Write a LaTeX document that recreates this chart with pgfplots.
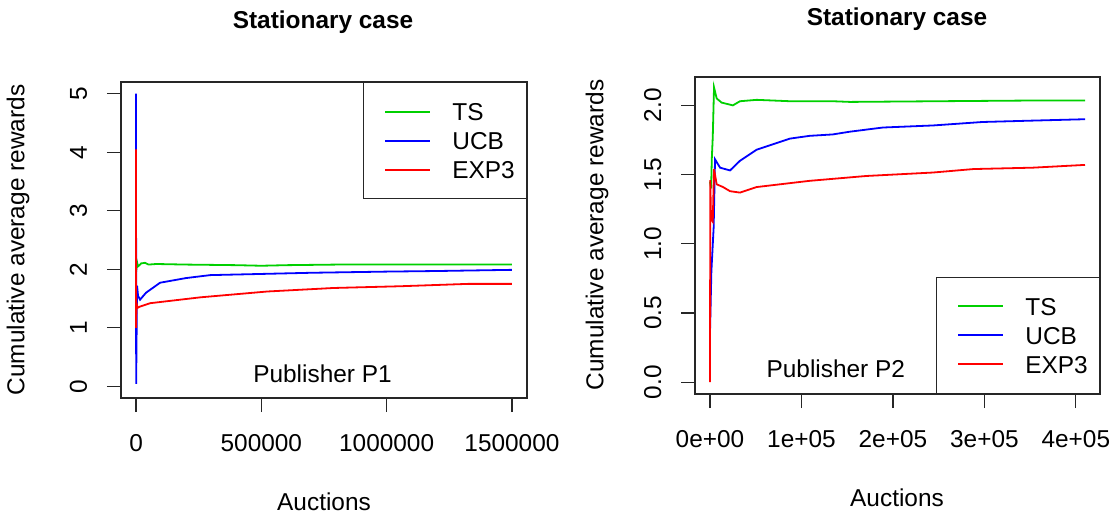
\documentclass[border=0pt]{standalone}
\usepackage{pgfplots}
\pgfplotsset{compat=1.18}
\usepackage{fontspec}
\setmainfont{Liberation Sans}
\definecolor{rgreen}{HTML}{00D000}
\definecolor{rblue}{HTML}{0000FF}
\definecolor{rred}{HTML}{FF0000}
\newcommand{\rfont}{\fontsize{12.2}{14}\selectfont}

\pgfplotsset{
  rbase/.style={
    scale only axis,
    axis line style={black!85, line width=0.6pt},
    tick align=outside, tick pos=left,
    major tick length=7pt,
    tick style={black!85, line width=0.6pt},
    /pgf/number format/assume math mode=true,
    ticklabel style={font=\rfont},
    xticklabel style={anchor=base, yshift=-19.9pt},
    yticklabel style={xshift=-10pt, rotate=90, anchor=base},
    scaled ticks=false,
    legend cell align=left,
    legend image code/.code={%
      \path[draw=none, fill=none] (0pt,0pt) -- (11pt,0pt);
      \draw[##1, line width=1pt] (11pt,0pt) -- (33.5pt,0pt);},
    legend style={draw=black!85, line width=0.6pt, fill=white,
      inner xsep=0pt, inner ysep=7.25pt, row sep=0pt, column sep=10.5pt,
      font=\rfont,
      nodes={inner sep=0pt, text height=11.62pt, text depth=2.88pt}},
  },
  rline/.style={line width=0.9pt, no marks},
}

\begin{document}
\begin{tikzpicture}
\useasboundingbox (0pt,0pt) rectangle (559pt,-256.5pt);

% ---- Publisher P1 ----
\begin{axis}[rbase,
  at={(60.5pt,-199pt)}, anchor=south west,
  width=203pt, height=158pt,
  xmin=-60000, xmax=1560000, ymin=-0.2, ymax=5.2,
  xtick={0,500000,1000000,1500000},
  xticklabels={0,500000,1000000,1500000},
  ytick={0,1,2,3,4,5}, yticklabels={0,1,2,3,4,5},
  legend style={at={(1,1)}, anchor=north east},
]
\addplot[rline, rgreen] coordinates {
  (0,1.95) (1500,2.0) (3000,2.14) (8000,2.05) (14000,2.07) (20000,2.1)
  (36000,2.11) (50000,2.08) (80000,2.09) (200000,2.08) (400000,2.07)
  (500000,2.06) (600000,2.07) (800000,2.08) (1000000,2.08)
  (1200000,2.08) (1500000,2.08)};
\addlegendentry{\makebox[37pt][l]{TS}}
\addplot[rline, rblue] coordinates {
  (0,5.0) (500,0.04) (4000,1.72) (8000,1.55) (16000,1.48) (40000,1.6)
  (96000,1.77) (200000,1.85) (296000,1.9) (500000,1.92) (700000,1.94)
  (1000000,1.96) (1200000,1.97) (1500000,1.99)};
\addlegendentry{\makebox[37pt][l]{UCB}}
\addplot[rline, rred] coordinates {
  (0,4.05) (300,1.0) (2000,1.42) (6000,1.34) (14000,1.36) (56000,1.42)
  (256000,1.52) (524000,1.62) (788000,1.68) (1056000,1.71)
  (1324000,1.75) (1500000,1.75)};
\addlegendentry{\makebox[37pt][l]{EXP3}}
\node[font=\rfont, anchor=center] at (axis cs:744000,0.222) {Publisher P1};
\end{axis}

% ---- Publisher P2 ----
\begin{axis}[rbase,
  at={(347.5pt,-197pt)}, anchor=south west,
  width=202.5pt, height=158.5pt,
  xmin=-16400, xmax=426400, ymin=-0.085, ymax=2.205,
  xtick={0,100000,200000,300000,400000},
  xticklabels={0e+00,1e+05,2e+05,3e+05,4e+05},
  ytick={0,0.5,1,1.5,2}, yticklabels={0.0,0.5,1.0,1.5,2.0},
  legend style={at={(1,0)}, anchor=south east},
]
\addplot[rline, rgreen] coordinates {
  (0,1.45) (1200,1.4) (2000,1.62) (3000,1.77) (4400,2.13) (7300,2.05)
  (12700,2.02) (25000,2.0) (32800,2.03) (51000,2.04) (87400,2.03)
  (134000,2.03) (153000,2.025) (250000,2.03) (350000,2.035) (410000,2.035)};
\addlegendentry{\makebox[37pt][l]{TS}}
\addplot[rline, rblue] coordinates {
  (0,0.36) (1500,0.8) (4000,1.12) (5500,1.61) (11000,1.55) (21900,1.53)
  (32800,1.6) (51000,1.68) (87400,1.76) (109000,1.78) (134000,1.79)
  (153000,1.81) (189000,1.84) (244000,1.855) (298000,1.88)
  (353000,1.89) (410000,1.9)};
\addlegendentry{\makebox[37pt][l]{UCB}}
\addplot[rline, rred] coordinates {
  (0,0.0) (300,1.46) (1100,1.18) (3000,1.16) (4400,1.54) (7300,1.43)
  (14200,1.41) (21900,1.38) (32800,1.37) (51000,1.41) (109000,1.455)
  (171000,1.49) (244000,1.515) (288000,1.54) (353000,1.55) (410000,1.57)};
\addlegendentry{\makebox[37pt][l]{EXP3}}
\node[font=\rfont, anchor=center] at (axis cs:137500,0.094) {Publisher P2};
\end{axis}

% ---- titles and axis labels ----
\node[font=\rfont\bfseries, anchor=base] at (161.5pt,-14.5pt) {Stationary case};
\node[font=\rfont\bfseries, anchor=base] at (448.5pt,-12.75pt) {Stationary case};
\node[font=\rfont, anchor=base] at (162pt,-255pt) {Auctions};
\node[font=\rfont, anchor=base] at (448.5pt,-253.3pt) {Auctions};
\node[font=\rfont, rotate=90, anchor=center] at (9pt,-120pt) {Cumulative average rewards};
\node[font=\rfont, rotate=90, anchor=center] at (298.5pt,-117.5pt) {Cumulative average rewards};
\end{tikzpicture}
\end{document}
